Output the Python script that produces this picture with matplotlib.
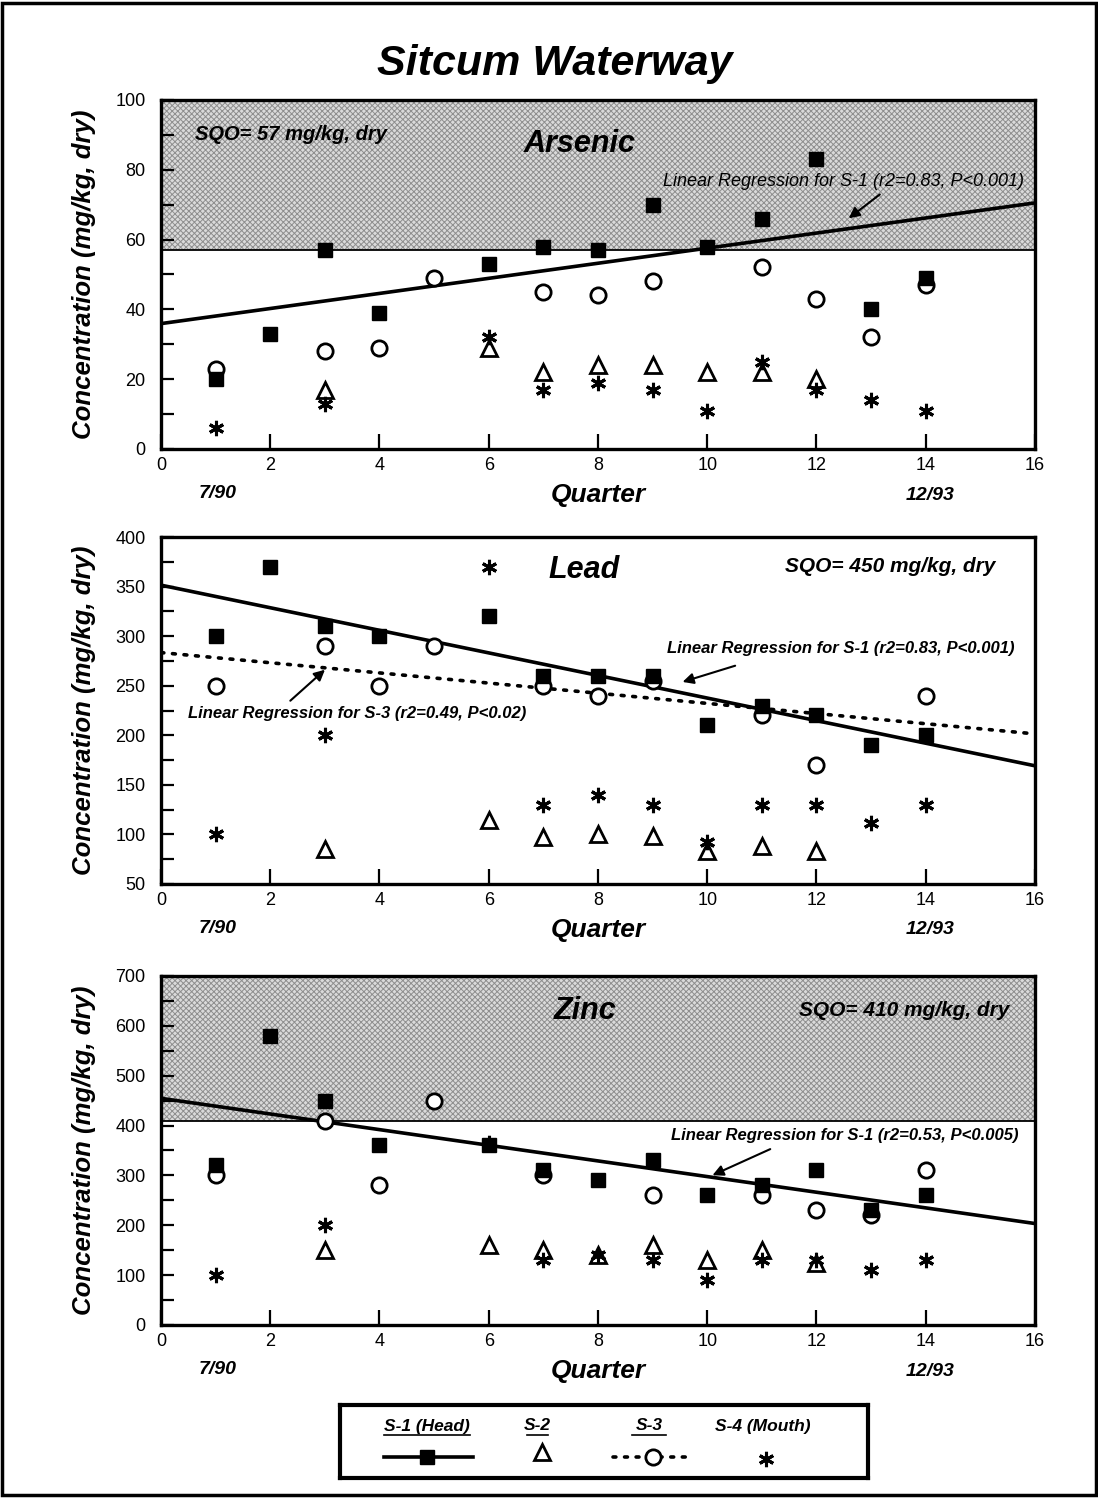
import numpy as np
import matplotlib.pyplot as plt
from matplotlib.ticker import MultipleLocator
from matplotlib.patches import Rectangle
from matplotlib.lines import Line2D

plt.rcParams['font.family'] = ['Liberation Sans', 'DejaVu Sans']
plt.rcParams['hatch.linewidth'] = 0.7

# Quarters sampled at each station
q_s1 = [1, 2, 3, 4, 6, 7, 8, 9, 10, 11, 12, 13, 14]
q_s2 = [3, 6, 7, 8, 9, 10, 11, 12]
q_s3 = [1, 3, 4, 5, 7, 8, 9, 11, 12, 13, 14]
q_s4 = [1, 3, 6, 7, 8, 9, 10, 11, 12, 13, 14]

# Arsenic (mg/kg, dry)
as_s1 = [20, 33, 57, 39, 53, 58, 57, 70, 58, 66, 83, 40, 49]
as_s2 = [17, 29, 22, 24, 24, 22, 22, 20]
as_s3 = [23, 28, 29, 49, 45, 44, 48, 52, 43, 32, 47]
as_s4 = [6, 13, 32, 17, 19, 17, 11, 25, 17, 14, 11]

# Lead (mg/kg, dry)
pb_s1 = [300, 370, 310, 300, 320, 260, 260, 260, 210, 230, 220, 190, 200]
pb_s2 = [85, 115, 97, 100, 98, 83, 88, 83]
pb_q_s3 = [1, 3, 4, 5, 7, 8, 9, 11, 12, 14]
pb_s3 = [250, 290, 250, 290, 250, 240, 255, 220, 170, 240]
pb_s4 = [100, 200, 370, 130, 140, 130, 92, 130, 130, 112, 130]

# Zinc (mg/kg, dry)
zn_s1 = [320, 580, 450, 360, 360, 310, 290, 330, 260, 280, 310, 230, 260]
zn_s2 = [150, 160, 150, 140, 160, 130, 150, 125]
zn_q_s3 = [1, 3, 4, 5, 7, 9, 11, 12, 13, 14]
zn_s3 = [300, 410, 280, 450, 300, 260, 260, 230, 220, 310]
zn_s4 = [100, 200, 365, 130, 140, 130, 90, 130, 130, 110, 130]

sqo = {'Arsenic': 57, 'Lead': 450, 'Zinc': 410}

BI = dict(fontweight='bold', fontstyle='italic')


def fit_line(x, y):
    slope, icpt = np.polyfit(x, y, 1)
    xx = np.array([0, 16])
    return xx, icpt + slope * xx


def draw_panel(ax, ylim, major, minor, s1, s2, s3, s4, q3, limit):
    ax.set_xlim(0, 16)
    ax.set_ylim(*ylim)
    if limit < ylim[1]:
        ax.axhspan(limit, ylim[1], facecolor='#dadada', edgecolor='#8e8e8e',
                   hatch='xxxxxx', linewidth=0, zorder=0)
        ax.axhline(limit, color='black', lw=1.3, zorder=1)

    ax.plot(q3, s3, 'o', ms=11, mfc='white', mec='black', mew=2, zorder=4)
    ax.plot(q_s1, s1, 's', ms=10, color='black', zorder=5)
    ax.plot(q_s2, s2, '^', ms=12, mfc='none', mec='black', mew=2, zorder=4)
    ax.plot(q_s4, s4, marker=(6, 2, 0), ls='none', ms=11, mec='black',
            mew=2.2, zorder=4)

    xx, yy = fit_line(q_s1, s1)
    ax.plot(xx, yy, '-', color='black', lw=2.6, zorder=3)

    ax.xaxis.set_major_locator(MultipleLocator(2))
    ax.yaxis.set_major_locator(MultipleLocator(major))
    ax.yaxis.set_minor_locator(MultipleLocator(minor))
    ax.tick_params(axis='both', which='both', direction='in', labelsize=13,
                   width=1.6, top=False, right=False)
    ax.tick_params(axis='y', which='both', length=9, pad=11)
    ax.tick_params(axis='x', length=11, pad=6)
    for sp in ax.spines.values():
        sp.set_linewidth(2.4)

    ax.text(-0.088, 0.5, 'Concentration (mg/kg, dry)', transform=ax.transAxes,
            rotation=90, ha='center', va='center', fontsize=18.5, **BI)
    ax.text(0.5, -0.132, 'Quarter', transform=ax.transAxes, ha='center',
            va='center', fontsize=19, **BI)
    ax.text(0.065, -0.128, '7/90', transform=ax.transAxes, ha='center',
            va='center', fontsize=14, **BI)
    ax.text(0.88, -0.132, '12/93', transform=ax.transAxes, ha='center',
            va='center', fontsize=14, **BI)


fig = plt.figure(figsize=(10.98, 14.98), dpi=100)
fig.patches.append(Rectangle((0.002, 0.002), 0.996, 0.996, transform=fig.transFigure,
                             fill=False, lw=2.5, edgecolor='black'))

fig.text(0.505, 0.957, 'Sitcum Waterway', ha='center', va='center',
         fontsize=31, **BI)

ax1 = fig.add_axes([0.1466, 0.7003, 0.796, 0.2330])
ax2 = fig.add_axes([0.1466, 0.4099, 0.796, 0.2316])
ax3 = fig.add_axes([0.1466, 0.1155, 0.796, 0.2330])

# Arsenic
draw_panel(ax1, (0, 100), 20, 10, as_s1, as_s2, as_s3, as_s4, q_s3, sqo['Arsenic'])
ax1.text(0.62, 90, 'SQO= 57 mg/kg, dry', fontsize=14.5, va='center', **BI)
ax1.text(7.67, 87.5, 'Arsenic', fontsize=22, ha='center', va='center', **BI)
ax1.text(15.8, 76.5, 'Linear Regression for S-1 (r2=0.83, P<0.001)',
         fontsize=13, ha='right', va='center', fontstyle='italic')
ax1.annotate('', xy=(12.55, 65.6), xytext=(13.2, 73.4),
             arrowprops=dict(arrowstyle='-|>', color='black', lw=1.5,
                             mutation_scale=16))

# Lead
draw_panel(ax2, (50, 400), 50, 25, pb_s1, pb_s2, pb_s3, pb_s4, pb_q_s3, sqo['Lead'])
xx, yy = fit_line(pb_q_s3, pb_s3)
ax2.plot(xx, yy, color='black', lw=2.6, ls=(0, (0.8, 2.4)),
         dash_capstyle='round', zorder=3)
ax2.text(7.74, 367, 'Lead', fontsize=22, ha='center', va='center', **BI)
ax2.text(15.27, 370, 'SQO= 450 mg/kg, dry', fontsize=15, ha='right', va='center', **BI)
ax2.text(15.63, 288, 'Linear Regression for S-1 (r2=0.83, P<0.001)',
         fontsize=12, ha='right', va='center', **BI)
ax2.annotate('', xy=(9.5, 253), xytext=(10.56, 271),
             arrowprops=dict(arrowstyle='-|>', color='black', lw=1.5,
                             mutation_scale=16))
ax2.text(0.5, 222, 'Linear Regression for S-3 (r2=0.49, P<0.02)',
         fontsize=12, ha='left', va='center', **BI)
ax2.annotate('', xy=(3.04, 268), xytext=(2.33, 233),
             arrowprops=dict(arrowstyle='-|>', color='black', lw=1.5,
                             mutation_scale=16))

# Zinc
draw_panel(ax3, (0, 700), 100, 50, zn_s1, zn_s2, zn_s3, zn_s4, zn_q_s3, sqo['Zinc'])
ax3.text(7.76, 630, 'Zinc', fontsize=22, ha='center', va='center', **BI)
ax3.text(15.54, 630, 'SQO= 410 mg/kg, dry', fontsize=15, ha='right', va='center', **BI)
ax3.text(15.69, 380, 'Linear Regression for S-1 (r2=0.53, P<0.005)',
         fontsize=12, ha='right', va='center', **BI)
ax3.annotate('', xy=(10.05, 298), xytext=(11.2, 355),
             arrowprops=dict(arrowstyle='-|>', color='black', lw=1.5,
                             mutation_scale=16))

# Station key, drawn in box pixel units
lg = fig.add_axes([340 / 1098, 1 - 1478 / 1498, 528 / 1098, 73 / 1498])
lg.set_xlim(0, 528)
lg.set_ylim(73, 0)
lg.set_xticks([])
lg.set_yticks([])
for sp in lg.spines.values():
    sp.set_linewidth(3)
for cx, label, ul in [(87, 'S-1 (Head)', (44, 130)), (197, 'S-2', (187, 208)),
                      (309, 'S-3', (292, 326)), (423, 'S-4 (Mouth)', None)]:
    lg.text(cx, 21, label, ha='center', va='center', fontsize=12.5, **BI)
    if ul:
        lg.add_line(Line2D(ul, [30, 30], color='black', lw=1.2))
lg.add_line(Line2D([44, 133], [52, 52], color='black', lw=2.6))
lg.plot(87, 52, 's', ms=10, color='black')
lg.plot(202, 47, '^', ms=12, mfc='none', mec='black', mew=2)
lg.add_line(Line2D([273, 351], [52, 52], color='black', lw=2.6,
                   ls=(0, (0.8, 2.4)), dash_capstyle='round'))
lg.plot(313, 52, 'o', ms=11, mfc='white', mec='black', mew=2)
lg.plot(426, 54, marker=(6, 2, 0), ms=11, mec='black', mew=2.2)

fig.savefig('out.png', dpi=100)
